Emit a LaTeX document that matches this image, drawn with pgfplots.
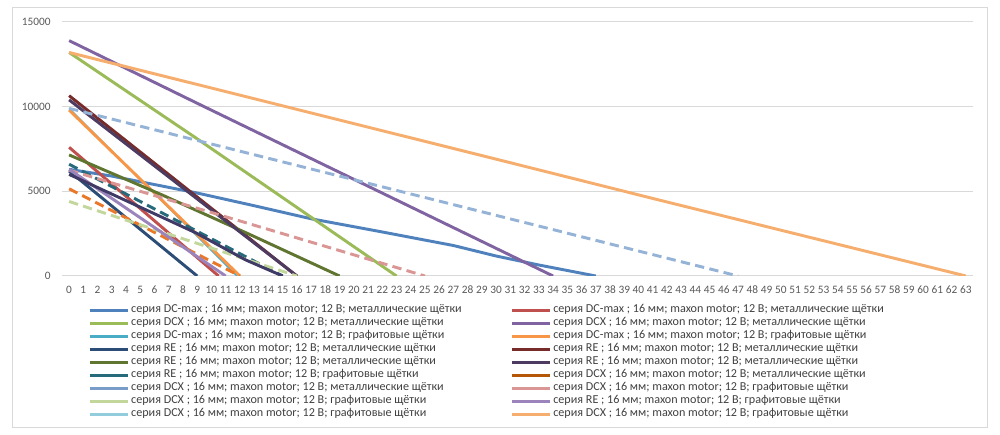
\documentclass[border=0pt]{standalone}
\usepackage{pgfplots}
\pgfplotsset{compat=1.18}
\usepackage{fontspec}
\setmainfont{Carlito}
\definecolor{gridgray}{HTML}{D9D9D9}
\definecolor{ticktext}{HTML}{595959}
\definecolor{legtext}{HTML}{404040}
\definecolor{c1}{HTML}{4F81BD}
\definecolor{c2}{HTML}{C0504D}
\definecolor{c3}{HTML}{9BBB59}
\definecolor{c4}{HTML}{8064A2}
\definecolor{c5}{HTML}{4BACC6}
\definecolor{c6}{HTML}{F79646}
\definecolor{c7}{HTML}{2C4D75}
\definecolor{c8}{HTML}{772C2A}
\definecolor{c9}{HTML}{5F7530}
\definecolor{c10}{HTML}{4D3B62}
\definecolor{c11}{HTML}{276A7C}
\definecolor{c12}{HTML}{B65708}
\definecolor{c12p}{HTML}{E9782A}
\definecolor{c13}{HTML}{95B3D7}
\definecolor{c13l}{HTML}{7A9CC8}
\definecolor{c14}{HTML}{D99694}
\definecolor{c15}{HTML}{C3D69B}
\definecolor{c16}{HTML}{9B83BC}
\definecolor{c17}{HTML}{93CDDD}
\definecolor{c17p}{HTML}{3F3A66}
\definecolor{c18}{HTML}{F6AE6E}
\begin{document}
\begin{tikzpicture}[x=1pt,y=1pt]
\useasboundingbox (0,0) rectangle (750,326.25);
\draw[gridgray, line width=0.75pt] (9,5.25) rectangle (740.25,320.25);
\begin{axis}[
  at={(46.5pt,119.25pt)}, anchor=south west,
  scale only axis, width=683.25pt, height=190.5pt,
  xmin=-0.5, xmax=63.5, ymin=0, ymax=15000,
  axis line style={draw=none},
  ytick={0,5000,10000,15000},
  xtick={0,...,63},
  major tick length=0pt,
  ymajorgrids, grid style={gridgray, line width=0.75pt},
  scaled y ticks=false,
  /pgf/number format/assume math mode=true,
  yticklabel style={/pgf/number format/fixed, /pgf/number format/1000 sep={}, font=\fontsize{8.5}{10}\selectfont, text=ticktext, xshift=-5pt},
  xticklabel style={font=\fontsize{8.5}{10}\selectfont, text=ticktext, yshift=-4pt},
  every axis plot/.append style={line width=2.2pt},
  legend columns=2,
  legend cell align=left,
  legend image code/.code={\draw[#1] (0pt,0pt) -- (28.5pt,0pt);},
  legend style={at={(0,0)}, anchor=north west, xshift=19.5pt, yshift=-20.5pt,
    draw=none, fill=none, inner sep=0pt, font=\fontsize{9.1}{11}\selectfont, text=legtext,
    nodes={inner xsep=1.5pt, inner ysep=0pt, text height=6.6pt, text depth=3.2pt},
    /tikz/every even column/.append style={column sep=35pt}},
]
% 1 DC-max metal
\addplot[c1] coordinates {(0,6300) (3,5900) (9,4900) (13,4150) (17,3380) (22,2600) (27,1800) (30,1180) (33,650) (37,0)};
\addlegendentry{серия DC-max ; 16 мм; maxon motor; 12 В; металлические щётки}
% 2 DC-max metal
\addplot[c2] coordinates {(0,7600) (10.5,0)};
\addlegendentry{серия DC-max ; 16 мм; maxon motor; 12 В; металлические щётки}
% 3 DCX metal
\addplot[c3] coordinates {(0,13200) (9,8100) (23,0)};
\addlegendentry{серия DCX ; 16 мм; maxon motor; 12 В; металлические щётки}
% 4 DCX metal
\addplot[c4] coordinates {(0,13900) (9,10200) (34,0)};
\addlegendentry{серия DCX ; 16 мм; maxon motor; 12 В; металлические щётки}
% 5 DC-max graphite
\addplot[c5, line width=1.2pt, legend image post style={line width=2.2pt}] coordinates {(0,9900) (11.8,0)};
\addlegendentry{серия DC-max ; 16 мм; maxon motor; 12 В; графитовые щётки}
% 6 DC-max graphite
\addplot[c6] coordinates {(0,9800) (12,0)};
\addlegendentry{серия DC-max ; 16 мм; maxon motor; 12 В; графитовые щётки}
% 7 RE metal
\addplot[c7] coordinates {(0,6200) (9,0)};
\addlegendentry{серия RE ; 16 мм; maxon motor; 12 В; металлические щётки}
% 8 RE metal
\addplot[c8] coordinates {(0,10650) (16,0)};
\addlegendentry{серия RE ; 16 мм; maxon motor; 12 В; металлические щётки}
% 9 RE metal
\addplot[c9] coordinates {(0,7150) (6.5,4800) (12.7,2450) (19,0)};
\addlegendentry{серия RE ; 16 мм; maxon motor; 12 В; металлические щётки}
% 10 RE metal
\addplot[c10] coordinates {(0,10400) (16,0)};
\addlegendentry{серия RE ; 16 мм; maxon motor; 12 В; металлические щётки}
% 11 RE graphite
\addplot[c11, dash pattern=on 7pt off 4pt, legend image post style={solid}] coordinates {(0,6600) (15,0)};
\addlegendentry{серия RE ; 16 мм; maxon motor; 12 В; графитовые щётки}
% 12 DCX metal
\addplot[c12p, dash pattern=on 7pt off 4pt, legend image post style={solid, c12}] coordinates {(0,5150) (12,0)};
\addlegendentry{серия DCX ; 16 мм; maxon motor; 12 В; металлические щётки}
% 13 DCX metal
\addplot[c13, dash pattern=on 7pt off 4pt, legend image post style={solid, c13l}] coordinates {(0,9900) (47,0)};
\addlegendentry{серия DCX ; 16 мм; maxon motor; 12 В; металлические щётки}
% 14 DCX graphite
\addplot[c14, dash pattern=on 7pt off 4pt, legend image post style={solid}] coordinates {(0,6250) (25,0)};
\addlegendentry{серия DCX ; 16 мм; maxon motor; 12 В; графитовые щётки}
% 15 DCX graphite
\addplot[c15, dash pattern=on 7pt off 4pt, legend image post style={solid}] coordinates {(0,4400) (16,0)};
\addlegendentry{серия DCX ; 16 мм; maxon motor; 12 В; графитовые щётки}
% 16 RE graphite
\addplot[c16] coordinates {(0,6300) (11,0)};
\addlegendentry{серия RE ; 16 мм; maxon motor; 12 В; графитовые щётки}
% 17 DCX graphite
\addplot[c17p, legend image post style={c17}] coordinates {(0,6000) (8.9,2550) (12.4,950) (15,0)};
\addlegendentry{серия DCX ; 16 мм; maxon motor; 12 В; графитовые щётки}
% 18 DCX graphite
\addplot[c18] coordinates {(0,13200) (15,10050) (30,6900) (41,4580) (63,0)};
\addlegendentry{серия DCX ; 16 мм; maxon motor; 12 В; графитовые щётки}
\end{axis}
\end{tikzpicture}
\end{document}
